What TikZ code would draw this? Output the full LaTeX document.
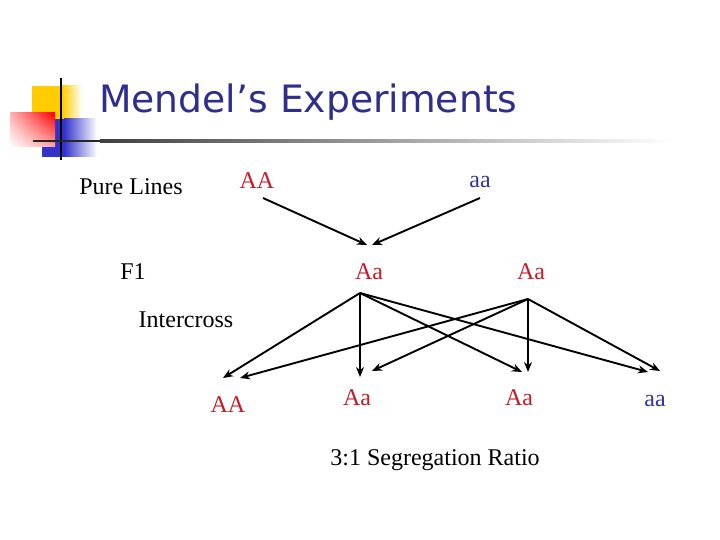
\documentclass[tikz,border=0pt]{standalone}
\usepackage{fontspec}
\setmainfont{Liberation Serif}
\newfontfamily\titlefont{DejaVu Sans}
\usetikzlibrary{arrows.meta,shadings}
\definecolor{gred}{RGB}{196,28,40}
\definecolor{gblue}{RGB}{51,51,153}
\definecolor{tblue}{RGB}{46,46,140}
\definecolor{lyellow}{RGB}{255,204,0}
\definecolor{lblue}{RGB}{51,51,204}
\begin{document}
\begin{tikzpicture}[x=1pt,y=-1pt,
  lbl/.style={anchor=base,inner sep=0pt,font=\fontsize{24}{28}\selectfont},
  dom/.style={lbl,text=gred},
  rec/.style={lbl,text=gblue},
  arr/.style={line width=1.9pt,-{Stealth[length=10pt,width=8pt]}}]
\useasboundingbox[fill=white] (0,0) rectangle (720,540);

% logo
\fill[lyellow] (32,86) rectangle (62,130);
\shade[left color=lyellow,right color=white] (62,86) rectangle (82,130);
\fill[lblue] (42,119) rectangle (64,157);
\shade[left color=lblue,right color=white] (64,119) rectangle (97,157);
\shade[upper right=red,upper left=red!30,lower right=red!35,lower left=white] (10,113) rectangle (55,147);
\draw[line width=2pt,black] (61,78) -- (61,160);
\fill[black!85] (33,140) rectangle (100,142.5);
\shade[left color=black!75,right color=white] (100,140) rectangle (673,142.5);

% title
\node[anchor=base west,inner sep=0pt,text=tblue,font=\titlefont\fontsize{37.7}{44}\selectfont] (title) at (99,113) {Mendel’s Experiments};

% labels
\node[lbl] (pure) at (131,195) {Pure Lines};
\node[lbl] (f1) at (133,279) {F1};
\node[lbl] (inter) at (186,327) {Intercross};
\node[lbl] (ratio) at (435,465) {3:1 Segregation Ratio};

% genotypes
\node[dom] (AAp) at (257,189) {AA};
\node[rec] (aap) at (480,188) {aa};
\node[dom] (F1a) at (369,279) {Aa};
\node[dom] (F1b) at (531,279) {Aa};
\node[dom] (g1) at (228,412) {AA};
\node[dom] (g2) at (357,405) {Aa};
\node[dom] (g3) at (519,405) {Aa};
\node[rec] (g4) at (655,406) {aa};

% arrow end points
\coordinate (sAA) at (263,198);
\coordinate (saa) at (480,198);
\coordinate (tF1l) at (367,245);
\coordinate (tF1r) at (372,245);
\coordinate (c1) at (360,293);
\coordinate (c2) at (528,299);
\coordinate (t1a) at (223,378);
\coordinate (t1b) at (240,378);
\coordinate (t2a) at (360,377);
\coordinate (t2b) at (372,371);
\coordinate (t3a) at (522,372);
\coordinate (t3b) at (528,372);
\coordinate (t4a) at (648,372);
\coordinate (t4b) at (660,371);

\draw[arr] (sAA) -- (tF1l);
\draw[arr] (saa) -- (tF1r);
\draw[arr] (c1) -- (t1a);
\draw[arr] (c1) -- (t2a);
\draw[arr] (c1) -- (t3a);
\draw[arr] (c1) -- (t4a);
\draw[arr] (c2) -- (t1b);
\draw[arr] (c2) -- (t2b);
\draw[arr] (c2) -- (t3b);
\draw[arr] (c2) -- (t4b);
\end{tikzpicture}
\end{document}
